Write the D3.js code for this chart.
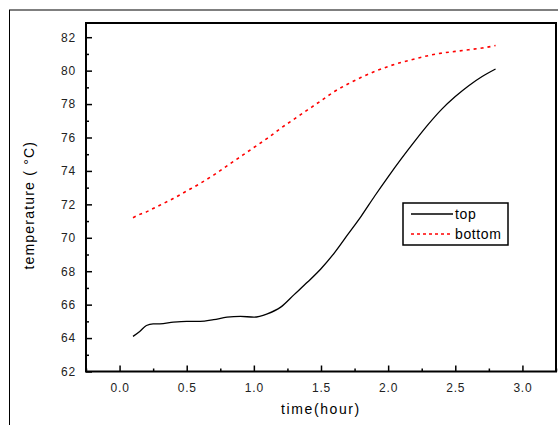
<!DOCTYPE html>
<html>
<head>
<meta charset="utf-8">
<script src="https://cdn.jsdelivr.net/npm/d3@7"></script>
<style>
  body { margin: 0; background: #fff; }
  svg text { font-family: "Liberation Sans", Arial, sans-serif; }
</style>
</head>
<body>
<div id="vizcontainer"></div>
<script>
const hours = [0.1, 0.15, 0.2, 0.25, 0.3, 0.4, 0.5, 0.6, 0.7, 0.8, 0.9, 1.0, 1.1, 1.2, 1.3, 1.4, 1.5,
  1.6, 1.7, 1.8, 1.9, 2.0, 2.1, 2.2, 2.3, 2.4, 2.5, 2.6, 2.7, 2.8];
const topTemp = [64.1, 64.4, 64.75, 64.85, 64.85, 64.95, 65.0, 65.0, 65.1, 65.25, 65.3, 65.25, 65.45, 65.85,
  66.6, 67.35, 68.15, 69.1, 70.2, 71.3, 72.5, 73.65, 74.75, 75.8, 76.8, 77.7, 78.45, 79.1, 79.65, 80.1];
const bottomTemp = [71.2, 71.4, 71.55, 71.75, 71.95, 72.35, 72.8, 73.25, 73.75, 74.3, 74.85, 75.4, 75.95,
  76.55, 77.1, 77.65, 78.2, 78.75, 79.2, 79.6, 79.95, 80.25, 80.5, 80.7, 80.9, 81.05, 81.15, 81.25, 81.35, 81.5];
const xTicks = [0.0, 0.5, 1.0, 1.5, 2.0, 2.5, 3.0];
const yTicks = [62, 64, 66, 68, 70, 72, 74, 76, 78, 80, 82];
const seriesNames = ['top', 'bottom'];

const width = 558,
  height = 425;
const mLeft = 86, mRight = 556, mTop = 23, mBottom = 371.5;

let viz = d3.select('#vizcontainer')
  .append('svg')
  .attr('width', width)
  .attr('height', height);

// outer window frame
viz.append('line').attr('x1', 9).attr('x2', width).attr('y1', 10).attr('y2', 10)
  .attr('stroke', '#7f7f7f').attr('stroke-width', 2);
viz.append('line').attr('x1', 9.5).attr('x2', 9.5).attr('y1', 10).attr('y2', height)
  .attr('stroke', '#000').attr('stroke-width', 1);

const x = d3.scaleLinear().domain([-0.25, 3.25]).range([mLeft, mRight]);
const y = d3.scaleLinear().domain([62, 82.85]).range([mBottom, mTop]);

// minor ticks
const xMinor = d3.range(-0.25, 3.26, 0.25).filter(v => !xTicks.some(t => Math.abs(t - v) < 1e-6));
const yMinor = d3.range(63, 83, 2);

viz.append('g')
  .attr('transform', `translate(0,${mBottom})`)
  .call(d3.axisBottom(x).tickValues(xMinor).tickSize(-3).tickFormat(''));
viz.append('g')
  .attr('transform', `translate(${mLeft},0)`)
  .call(d3.axisLeft(y).tickValues(yMinor).tickSize(-3).tickFormat(''));

viz.append('g')
  .attr('transform', `translate(0,${mBottom})`)
  .call(d3.axisBottom(x).tickValues(xTicks).tickSize(-6).tickPadding(12).tickFormat(d3.format('.1f')));
viz.append('g')
  .attr('transform', `translate(${mLeft},0)`)
  .call(d3.axisLeft(y).tickValues(yTicks).tickSize(-6).tickPadding(10));

viz.selectAll('.domain').remove();
viz.selectAll('.tick line').attr('stroke', '#000').attr('stroke-width', 1.5);
viz.selectAll('.tick text')
  .attr('fill', '#222')
  .style('font-size', '12px')
  .style('letter-spacing', '0.8px');

// plot frame
viz.append('rect')
  .attr('x', mLeft).attr('y', mTop)
  .attr('width', mRight - mLeft).attr('height', mBottom - mTop)
  .attr('fill', 'none').attr('stroke', '#000').attr('stroke-width', 2);

const line = d3.line()
  .x(d => x(d[0]))
  .y(d => y(d[1]))
  .curve(d3.curveMonotoneX);

viz.append('path')
  .datum(hours.map((h, i) => [h, topTemp[i]]))
  .attr('d', line)
  .attr('fill', 'none')
  .attr('stroke', '#000')
  .attr('stroke-width', 1.3);

viz.append('path')
  .datum(hours.map((h, i) => [h, bottomTemp[i]]))
  .attr('d', line)
  .attr('fill', 'none')
  .attr('stroke', '#ff0000')
  .attr('stroke-width', 1.6)
  .attr('stroke-dasharray', '3,4');

// axis titles
viz.append('text')
  .attr('x', (mLeft + mRight) / 2)
  .attr('y', 414)
  .attr('text-anchor', 'middle')
  .style('font-size', '14px')
  .style('letter-spacing', '1.6px')
  .text('time(hour)');

viz.append('text')
  .attr('transform', `translate(34,${(mTop + mBottom) / 2 + 8}) rotate(-90)`)
  .attr('text-anchor', 'middle')
  .style('font-size', '14px')
  .style('letter-spacing', '1.2px')
  .text('temperature (  °C)');

// legend
const lg = viz.append('g').attr('transform', 'translate(403,203)');
lg.append('rect')
  .attr('width', 105).attr('height', 42)
  .attr('fill', '#fff').attr('stroke', '#000').attr('stroke-width', 1.5);
lg.selectAll('line')
  .data(seriesNames)
  .join('line')
  .attr('x1', 8).attr('x2', 50)
  .attr('y1', (d, i) => 11 + i * 20).attr('y2', (d, i) => 11 + i * 20)
  .attr('stroke', (d, i) => i === 0 ? '#000' : '#ff0000')
  .attr('stroke-width', (d, i) => i === 0 ? 1.5 : 1.6)
  .attr('stroke-dasharray', (d, i) => i === 0 ? null : '3,3');
lg.selectAll('text')
  .data(seriesNames)
  .join('text')
  .attr('x', 52)
  .attr('y', (d, i) => 16 + i * 20)
  .style('font-size', '14px')
  .style('letter-spacing', '0.6px')
  .text(d => d);
</script>
</body>
</html>
